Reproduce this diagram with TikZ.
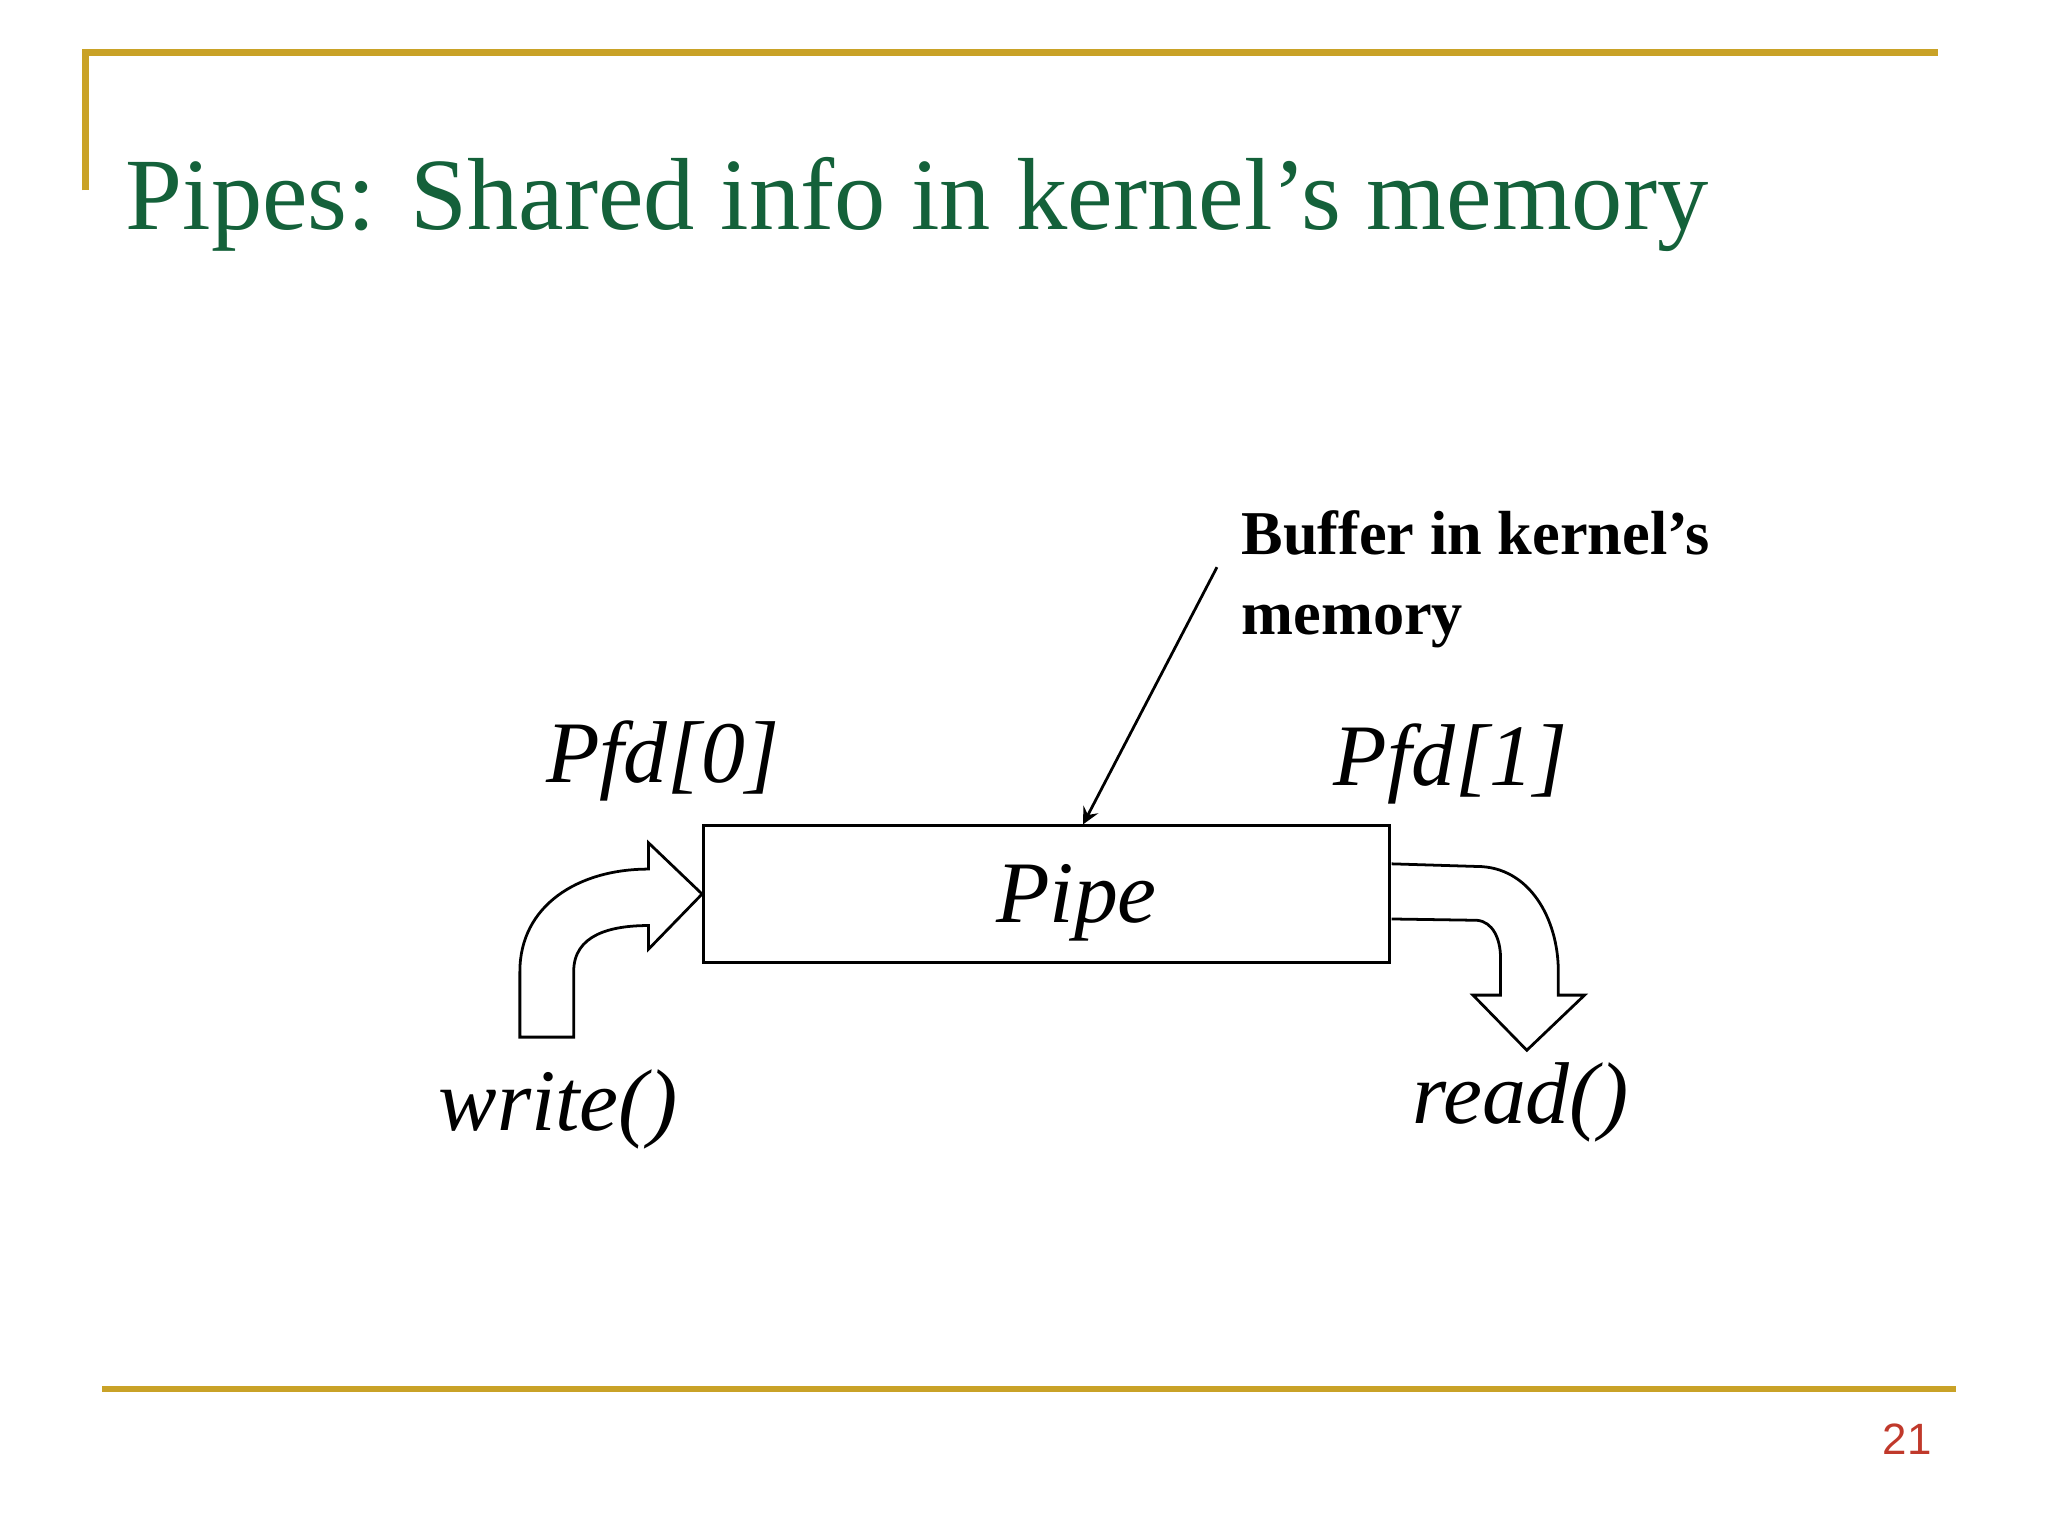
\documentclass[tikz,border=0pt]{standalone}
\usepackage{fontspec}
\setmainfont{Liberation Serif}
\newfontfamily\numfont{Liberation Sans}
\begin{document}
\begin{tikzpicture}[x=0.01cm,y=-0.01cm]
\definecolor{gold}{HTML}{C9A227}
\definecolor{titlegreen}{HTML}{14613A}
\definecolor{numred}{HTML}{C0392B}
\tikzset{goldline/.style={gold,line width=1.4pt},
 lbl/.style={font=\fontsize{19}{21}\selectfont\itshape,inner sep=0},
 blockarrow/.style={draw=black,line width=0.6pt,fill=white}}
\useasboundingbox (0,0) rectangle (1560,1170);
\draw[goldline] (65,145) -- (65,40) -- (1476,40);
\draw[goldline] (78,1058) -- (1490,1058);
\node[anchor=base west,inner sep=0,text=titlegreen,font=\fontsize{22.2}{25}\selectfont] (title) at (95,175) {Pipes: Shared info in kernel’s memory};
\node[anchor=base east,inner sep=0,text=numred,font=\numfont\fontsize{9.5}{11}\selectfont] (num) at (1472,1108) {21};
\node[draw,line width=0.6pt,minimum width=5.22cm,minimum height=1.04cm,inner sep=0] (pipe) at (797,681) {};
\node[lbl] (pipetxt) at (820,688) {Pipe};
\node[lbl] (pfd0) at (505,580) {Pfd[0]};
\node[lbl] (pfd1) at (1105,582) {Pfd[1]};
\node[lbl] (write) at (425,845) {write()};
\node[lbl] (read) at (1158,840) {read()};
\node[anchor=north west,align=left,inner sep=0,font=\bfseries\fontsize{13.5}{17.5}\selectfont] (buf) at (945,388) {Buffer in kernel’s\\memory};
\coordinate (bufend) at (927,432);
\coordinate (bufx) at (825,0);
\draw[line width=0.6pt,-stealth] (bufend) -- (pipe.north -| bufx);
\draw[blockarrow] (396,790) -- (437,790) -- (437,740) .. controls (437,712) and (465,705) .. (494,705) -- (494,723) -- (pipe.west) -- (494,642) -- (494,662) .. controls (440,662) and (396,690) .. (396,740) -- cycle;
\draw[blockarrow] (1060,658) -- (1125,660) .. controls (1165,660) and (1187,700) .. (1187,740) -- (1187,758) -- (1207,758) -- (1163,800) -- (1122,758) -- (1143,758) -- (1143,730) .. controls (1143,715) and (1137,702) .. (1125,701) -- (1060,700);
\end{tikzpicture}
\end{document}
